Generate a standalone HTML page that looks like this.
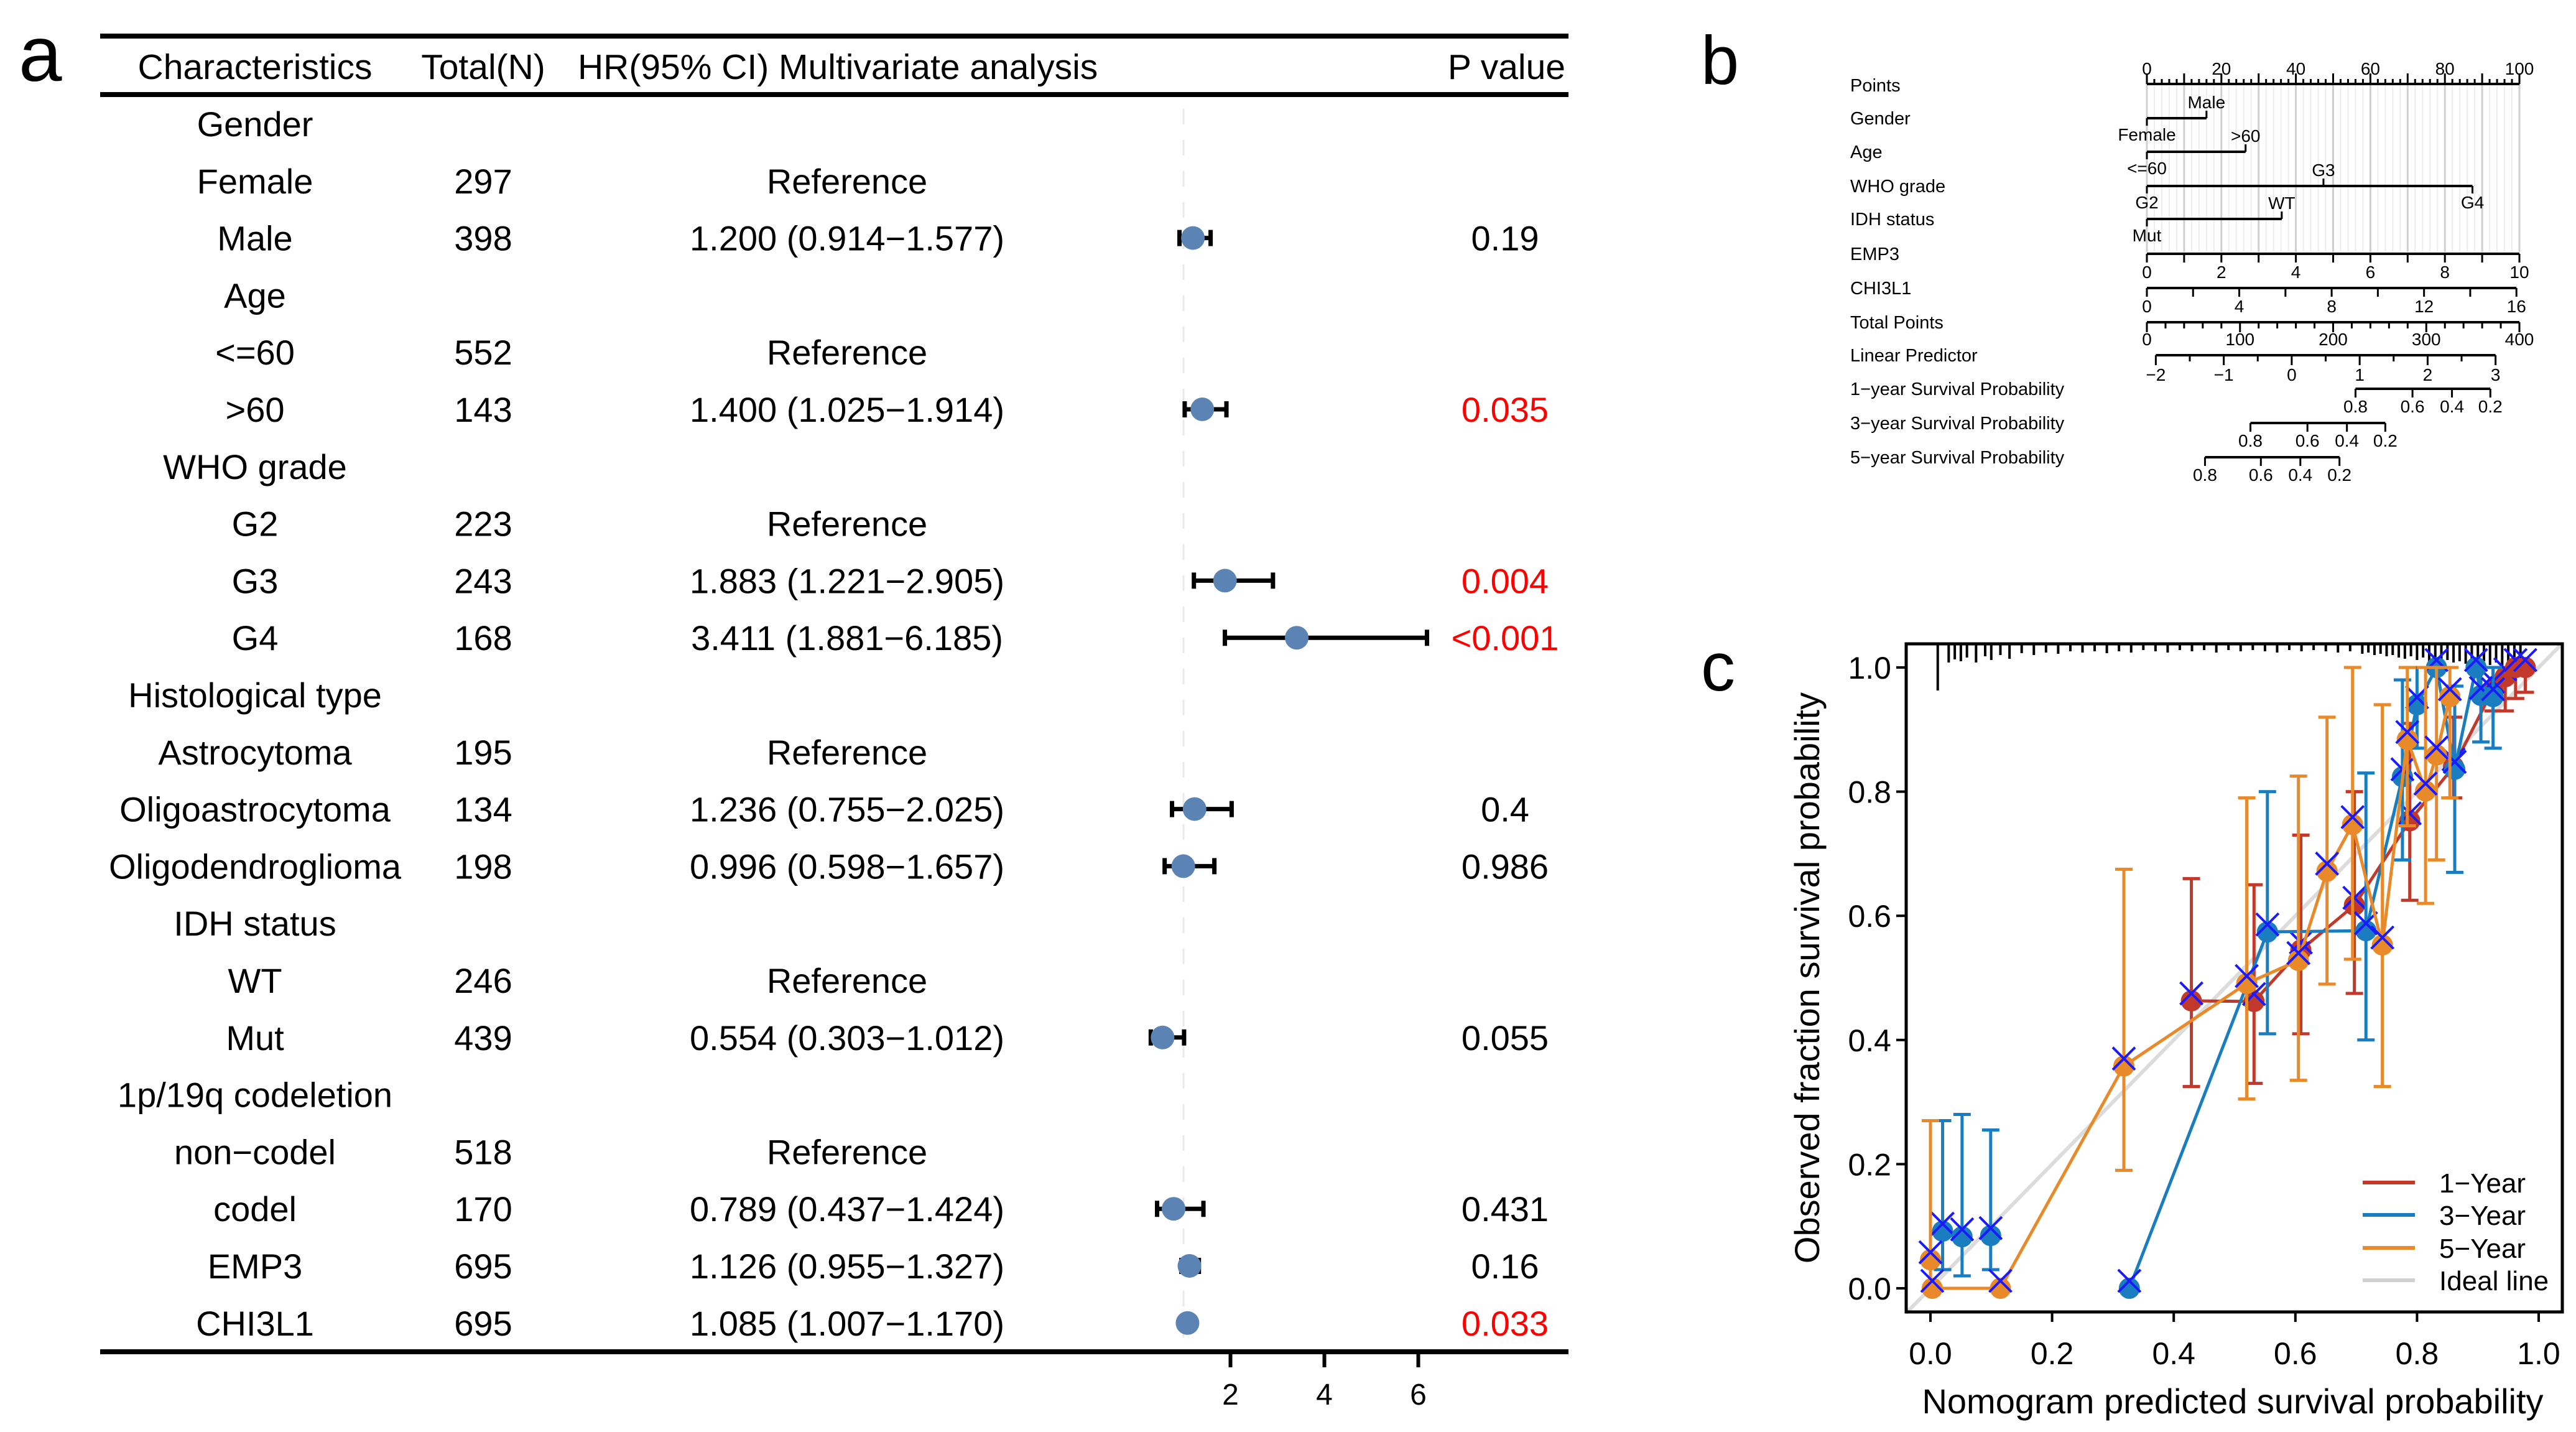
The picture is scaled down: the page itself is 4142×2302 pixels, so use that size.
<!DOCTYPE html>
<html><head><meta charset="utf-8"><style>
html,body{margin:0;padding:0;background:#fff;}
svg{display:block;font-family:"Liberation Sans",Arial,sans-serif;}
</style></head><body>
<svg id="fig" width="4142" height="2302" viewBox="0 0 4142 2302" xmlns="http://www.w3.org/2000/svg">
<rect width="4142" height="2302" fill="#fff"/>
<text x="30" y="130" font-size="125">a</text>
<text x="2735" y="135" font-size="110">b</text>
<text x="2735" y="1110" font-size="110">c</text>
<g id="pa"></g>
<g id="pb"></g>
<g id="pc"></g>
</svg>
<script>
// ---------- Panel a data ----------
const rowNames=["Gender","Female","Male","Age","<=60",">60","WHO grade","G2","G3","G4","Histological type","Astrocytoma","Oligoastrocytoma","Oligodendroglioma","IDH status","WT","Mut","1p/19q codeletion","non\u2212codel","codel","EMP3","CHI3L1"];
const rowTotals=["","297","398","","552","143","","223","243","168","","195","134","198","","246","439","","518","170","695","695"];
const hrVal=[null,null,1.200,null,null,1.400,null,null,1.883,3.411,null,null,1.236,0.996,null,null,0.554,null,null,0.789,1.126,1.085];
const hrLo=[null,null,0.914,null,null,1.025,null,null,1.221,1.881,null,null,0.755,0.598,null,null,0.303,null,null,0.437,0.955,1.007];
const hrHi=[null,null,1.577,null,null,1.914,null,null,2.905,6.185,null,null,2.025,1.657,null,null,1.012,null,null,1.424,1.327,1.170];
const refRows=[1,4,7,11,15,18];
const pVals=["","","0.19","","","0.035","","","0.004","<0.001","","","0.4","0.986","","","0.055","","","0.431","0.16","0.033"];
const pRed=[false,false,false,false,false,true,false,false,true,true,false,false,false,false,false,false,false,false,false,false,false,true];
const forestTicks=[2,4,6];

// ---------- Panel b data ----------
const nomoLabels=["Points","Gender","Age","WHO grade","IDH status","EMP3","CHI3L1","Total Points","Linear Predictor","1\u2212year Survival Probability","3\u2212year Survival Probability","5\u2212year Survival Probability"];
const genderPts=[0,16]; const genderLab=["Female","Male"];
const agePts=[0,26.5]; const ageLab=["<=60",">60"];
const whoPts=[0,47.4,87.4]; const whoLab=["G2","G3","G4"];
const idhPts=[0,36.2]; const idhLab=["Mut","WT"];
const emp3Max=10; const chiMax=16; const chiPtsMax=99.2;
const totalMax=400;
const lpMin=-2, lpMax=3, lpPtsMin=2.4, lpPtsMax=93.6;
const survTicks=["0.8","0.6","0.4","0.2"];
const surv1Pts=[56.0,71.3,81.9,92.2];
const surv3Pts=[27.8,43.1,53.7,64.0];
const surv5Pts=[15.6,30.6,41.2,51.7];

// ---------- Panel c data ----------
const c1x=[0.429,0.532,0.609,0.697,0.788,0.860,0.925,0.945,0.962,0.978];
const c1y=[0.463,0.462,0.545,0.617,0.753,0.840,0.965,0.985,1.0,1.0];
const c1lo=[0.325,0.33,0.41,0.475,0.625,0.79,0.93,0.93,0.95,0.96];
const c1hi=[0.66,0.65,0.73,0.80,0.91,0.92,1.0,1.0,1.0,1.0];
const c3x=[0.020,0.052,0.099,0.327,0.554,0.716,0.776,0.800,0.832,0.862,0.897,0.905,0.925];
const c3y=[0.092,0.083,0.085,0.0,0.574,0.576,0.824,0.940,1.0,0.836,1.0,0.955,0.953];
const c3lo=[0.03,0.02,0.03,0.0,0.41,0.40,0.69,0.87,1.0,0.67,1.0,0.88,0.87];
const c3hi=[0.27,0.28,0.255,0.0,0.80,0.83,0.98,1.0,1.0,0.97,1.0,1.0,1.0];
const c5x=[0.0,0.003,0.115,0.318,0.520,0.605,0.652,0.694,0.743,0.784,0.814,0.832,0.854];
const c5y=[0.046,0.0,0.0,0.358,0.491,0.528,0.672,0.747,0.553,0.884,0.801,0.859,0.953];
const c5lo=[0.0,0.0,0.0,0.19,0.305,0.335,0.49,0.53,0.325,0.745,0.62,0.69,0.79];
const c5hi=[0.27,0.0,0.0,0.675,0.79,0.825,0.92,1.0,0.94,1.0,1.0,1.0,1.0];
const rugX=[0.012,0.03,0.04,0.05,0.06,0.075,0.09,0.1,0.115,0.13,0.15,0.17,0.19,0.21,0.23,0.25,0.27,0.29,0.31,0.33,0.35,0.37,0.39,0.41,0.43,0.45,0.47,0.49,0.51,0.53,0.55,0.57,0.59,0.61,0.63,0.65,0.67,0.69,0.71,0.72,0.73,0.74,0.75,0.76,0.77,0.78,0.79,0.80,0.81,0.82,0.83,0.84,0.85,0.86,0.87,0.88,0.89,0.90,0.91,0.92,0.93,0.94,0.95,0.96,0.97];
const rugLen=[75,30,25,28,22,30,20,26,18,24,15,18,14,16,12,14,12,15,12,14,10,12,14,10,12,10,14,10,12,10,12,14,10,12,10,12,14,12,16,14,18,16,20,18,22,24,20,26,22,28,24,30,26,30,28,32,30,34,28,34,30,36,30,34,30];
const axTicks=[0,0.2,0.4,0.6,0.8,1.0];
const axLabels=["0.0","0.2","0.4","0.6","0.8","1.0"];
const legLabels=["1\u2212Year","3\u2212Year","5\u2212Year","Ideal line"];

const NS="http://www.w3.org/2000/svg";
function mk(tag,parent,attrs,txt){const e=document.createElementNS(NS,tag);for(const k in attrs)e.setAttribute(k,attrs[k]);if(txt!==undefined)e.textContent=txt;parent.appendChild(e);return e;}

// ================= Panel a =================
(function(){
const g=document.getElementById('pa');
const rowY=i=>199+i*91.8;
const fx=v=>1903+(v-1)*75.5;
let e;
e=mk('line',g,{x1:161,x2:2522,y1:58,y2:58,stroke:'#000','stroke-width':8});


e=mk('line',g,{x1:161,x2:2522,y1:152,y2:152,stroke:'#000','stroke-width':8});


e=mk('line',g,{x1:161,x2:2522,y1:2173,y2:2173,stroke:'#000','stroke-width':8});


const hdr=[["Characteristics",410,'middle'],["Total(N)",777,'middle'],["HR(95% CI) Multivariate analysis",929,'start'],["P value",2517,'end']];
hdr.forEach(h=>{const t=mk('text',g,{x:h[1],y:127,'font-size':57,'text-anchor':h[2]},h[0]);

});
e=mk('line',g,{x1:fx(1),x2:fx(1),y1:175,y2:2165,stroke:'#e8e8e8','stroke-width':3,'stroke-dasharray':'25 25'});


rowNames.forEach((n,i)=>{
 const y=rowY(i)+20;
 let t=mk('text',g,{x:410,y:y,'font-size':56,'text-anchor':'middle'},n);
 
 
 if(rowTotals[i]){t=mk('text',g,{x:777,y:y,'font-size':56,'text-anchor':'middle'},rowTotals[i]);
 
 }
 if(refRows.includes(i)){t=mk('text',g,{x:1362,y:y,'font-size':56,'text-anchor':'middle'},'Reference');
 
 }
 if(hrVal[i]!==null){
  t=mk('text',g,{x:1362,y:y,'font-size':56,'text-anchor':'middle'},hrVal[i].toFixed(3)+' ('+hrLo[i].toFixed(3)+'\u2212'+hrHi[i].toFixed(3)+')');
  
  
  const cy=rowY(i);
  const l=mk('path',g,{d:`M${fx(hrLo[i])},${cy}H${fx(hrHi[i])}M${fx(hrLo[i])},${cy-13}V${cy+13}M${fx(hrHi[i])},${cy-13}V${cy+13}`,stroke:'#000','stroke-width':7,fill:'none'});
  
  
  const c=mk('circle',g,{cx:fx(hrVal[i]),cy:cy,r:19,fill:'#5b84b4'});
  
  
 }
 if(pVals[i]){t=mk('text',g,{x:2420,y:y,'font-size':56,'text-anchor':'middle',fill:pRed[i]?'#ff0000':'#000'},pVals[i]);
 
 }
});
forestTicks.forEach(v=>{
 const tk=mk('line',g,{x1:fx(v),x2:fx(v),y1:2173,y2:2198,stroke:'#000','stroke-width':6});
 
 
 const t=mk('text',g,{x:fx(v),y:2258,'font-size':48,'text-anchor':'middle'},String(v));
 
 
});
})();

// ================= Panel b =================
(function(){
const g=document.getElementById('pb');
const px=p=>3452+p*5.99;
const rowsY=[137,190,244,299,352,408,463,518,571,625,680,735];
const FS=29;
let e;
nomoLabels.forEach((n,i)=>{const t=mk('text',g,{x:2975,y:rowsY[i]+10,'font-size':FS},n);
 
 });
// grid
for(let p=0;p<=100;p+=2){const ln=mk('line',g,{x1:px(p),x2:px(p),y1:135,y2:405,stroke:p%10===0?'#cfcfcf':'#ededed','stroke-width':p%10===0?3:2});
 
 }
function hline(y,a,b,name){const l=mk('line',g,{x1:px(a),x2:px(b),y1:y,y2:y,stroke:'#000','stroke-width':4});
 
 }
function tick(x,y1,y2){const l=mk('line',g,{x1:x,x2:x,y1:y1,y2:y2,stroke:'#000','stroke-width':3});
 
 }
function lab(x,y,s){const t=mk('text',g,{x:x,y:y,'font-size':FS-1,'text-anchor':'middle'},s);
 
 }
// Points
hline(135,0,100,'points-axis');
for(let p=0;p<=100;p+=2){tick(px(p),135,p%10===0?118:127);}
for(let p=0;p<=100;p+=20)lab(px(p),120,String(p));
// categorical
function cat(y,pts,labs,name,upIdx){
 hline(y,0,pts[pts.length-1],name);
 pts.forEach((p,k)=>{const up=upIdx.includes(k);tick(px(p),y,up?y-12:y+12);lab(px(p),up?y-16:y+36,labs[k]);});
}
cat(190,genderPts,genderLab,'gender-axis',[1]);
cat(244,agePts,ageLab,'age-axis',[1]);
cat(299,whoPts,whoLab,'who-axis',[1]);
cat(352,idhPts,idhLab,'idh-axis',[1]);
// EMP3
hline(408,0,100,'emp3-axis');
for(let v=0;v<=emp3Max;v++){tick(px(v/emp3Max*100),408,422);if(v%2===0)lab(px(v/emp3Max*100),447,String(v));}
// CHI3L1
hline(463,0,chiPtsMax,'chi3l1-axis');
for(let v=0;v<=chiMax;v+=2){tick(px(v/chiMax*chiPtsMax),463,477);if(v%4===0)lab(px(v/chiMax*chiPtsMax),502,String(v));}
// Total
hline(518,0,100,'total-points-axis');
for(let v=0;v<=totalMax;v+=20){tick(px(v/totalMax*100),518,v%100===0?534:528);if(v%100===0)lab(px(v/totalMax*100),555,String(v));}
// LP
hline(571,lpPtsMin,lpPtsMax,'linear-predictor-axis');
const lpx=v=>px(lpPtsMin+(v-lpMin)/(lpMax-lpMin)*(lpPtsMax-lpPtsMin));
for(let v=lpMin;v<=lpMax+1e-9;v+=0.5){tick(lpx(v),571,Number.isInteger(v)?587:581);if(Number.isInteger(v))lab(lpx(v),612,v<0?'\u2212'+Math.abs(v):String(v));}
// survival
[[625,surv1Pts,'survival-1yr-axis'],[680,surv3Pts,'survival-3yr-axis'],[735,surv5Pts,'survival-5yr-axis']].forEach(s=>{
 hline(s[0],s[1][0],s[1][s[1].length-1],s[2]);
 s[1].forEach((p,k)=>{tick(px(p),s[0],s[0]+14);lab(px(p),s[0]+38,survTicks[k]);});
});
})();

// ================= Panel c =================
(function(){
const g=document.getElementById('pc');
const X=v=>3104+v*978, Y=v=>2071-v*998;
const L=3065,R=4120,T=1035,B=2109;
let e;
// ideal line
e=mk('line',g,{x1:X(-0.04),y1:Y(-0.04),x2:X(1.035),y2:Y(1.035),stroke:'#dcdcdc','stroke-width':6});


// rug
rugX.forEach((v,k)=>{const l=mk('line',g,{x1:X(v),x2:X(v),y1:T,y2:T+rugLen[k],stroke:'#000','stroke-width':4});
 
 });
function series(xs,ys,lo,hi,col,name,lineStart){
 for(let i=0;i<xs.length;i++){
  if(hi[i]>lo[i]){const eb=mk('path',g,{d:`M${X(xs[i])},${Y(lo[i])}V${Y(hi[i])}M${X(xs[i])-14},${Y(lo[i])}h28M${X(xs[i])-14},${Y(hi[i])}h28`,stroke:col,'stroke-width':5,fill:'none'});
  
  }
 }
 let d='';for(let i=lineStart;i<xs.length;i++)d+=(i===lineStart?'M':'L')+X(xs[i])+','+Y(ys[i]);
 const pl=mk('path',g,{d:d,stroke:col,'stroke-width':5,fill:'none'});
 
 
 for(let i=0;i<xs.length;i++){
  const c=mk('circle',g,{cx:X(xs[i]),cy:Y(ys[i]),r:17,fill:col});
  
  
  const cx=X(xs[i]),cy=Y(ys[i])-12;
  const xm=mk('path',g,{d:`M${cx-18},${cy-18}L${cx+18},${cy+18}M${cx-18},${cy+18}L${cx+18},${cy-18}`,stroke:'#1a1aff','stroke-width':4,fill:'none'});
  
  
 }
}
series(c1x,c1y,c1lo,c1hi,'#c0392b','year1',0);
series(c3x,c3y,c3lo,c3hi,'#1a7dbf','year3',3);
series(c5x,c5y,c5lo,c5hi,'#e88a2a','year5',1);
// frame
e=mk('rect',g,{x:L,y:T,width:R-L,height:B-T,fill:'none',stroke:'#000','stroke-width':5});


axTicks.forEach((v,k)=>{
 let l=mk('line',g,{x1:L,x2:L-16,y1:Y(v),y2:Y(v),stroke:'#000','stroke-width':4});
 
 
 let t=mk('text',g,{x:L-24,y:Y(v)+18,'font-size':50,'text-anchor':'end'},axLabels[k]);
 
 
 l=mk('line',g,{x1:X(v),x2:X(v),y1:B,y2:B+16,stroke:'#000','stroke-width':4});
 
 
 t=mk('text',g,{x:X(v),y:2193,'font-size':50,'text-anchor':'middle'},axLabels[k]);
 
 
});
e=mk('text',g,{x:3590,y:2272,'font-size':56,'text-anchor':'middle'},'Nomogram predicted survival probability');


e=mk('text',g,{x:2925,y:1572,'font-size':56,'text-anchor':'middle',transform:'rotate(-90 2925 1572)'},'Observed fraction survival probability');


const legCols=['#c0392b','#1a7dbf','#e88a2a','#d0d0d0'];
const legY=[1901,1953,2006,2058];
legLabels.forEach((s,k)=>{
 const l=mk('line',g,{x1:3799,x2:3883,y1:legY[k],y2:legY[k],stroke:legCols[k],'stroke-width':6});
 
 
 const t=mk('text',g,{x:3922,y:legY[k]+16,'font-size':44},s);
 
 
});
})();
</script>
</body></html>
